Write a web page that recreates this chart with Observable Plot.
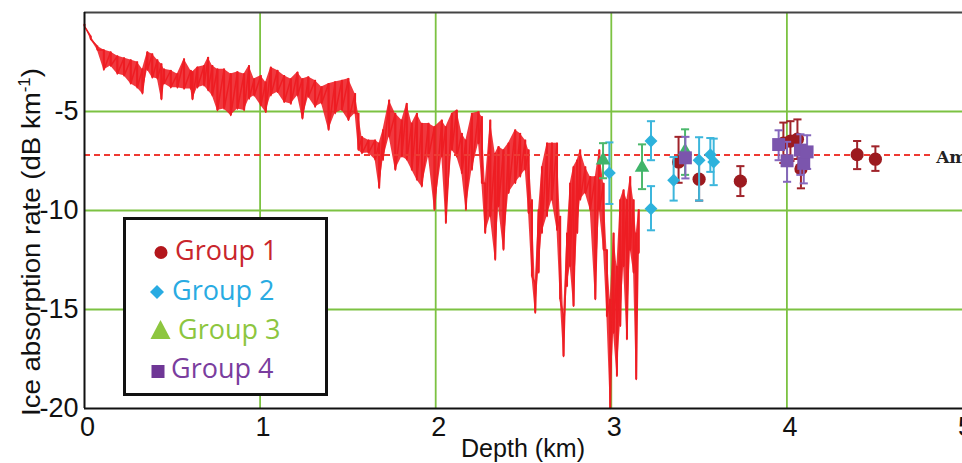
<!DOCTYPE html>
<html><head><meta charset="utf-8">
<script src="https://cdn.jsdelivr.net/npm/d3@7"></script>
<script src="https://cdn.jsdelivr.net/npm/@observablehq/plot@0.6"></script>
<style>
html,body{margin:0;padding:0;background:#fff;}
#wrap{position:relative;width:962px;height:463px;overflow:hidden;}
#legend{position:absolute;left:123px;top:217px;width:199px;height:173px;border:3px solid #111;background:#fff;}
.lt{position:absolute;font-family:"Open Sans","Noto Sans",sans-serif;font-size:27px;line-height:1;white-space:nowrap;}
</style></head><body><div id="wrap"></div>
<script>
// depth (km), upper value, lower value of the absorption-rate trace
const curveSamples = [
[0,-0.6,-0.7],[0.035,-1.2,-1.35],[0.073,-1.7,-1.9],[0.11,-1.9,-2.9],[0.149,-2.0,-2.7],
[0.187,-2.2,-3.1],[0.225,-2.3,-3.2],[0.263,-2.4,-3.6],[0.30,-2.5,-3.8],[0.33,-2.86,-4.1],
[0.358,-2.0,-2.9],[0.386,-2.1,-3.3],[0.415,-2.4,-3.35],[0.438,-2.6,-4.4],[0.453,-2.86,-3.6],
[0.491,-2.93,-3.8],[0.529,-3.1,-3.8],[0.567,-2.35,-3.86],[0.605,-2.93,-3.86],[0.615,-3.0,-4.4],
[0.643,-2.77,-3.8],[0.681,-2.69,-3.7],[0.704,-2.27,-3.94],[0.728,-2.69,-4.2],[0.757,-2.86,-4.95],
[0.795,-2.86,-4.87],[0.833,-3.1,-5.2],[0.871,-3.0,-4.87],[0.909,-3.1,-4.95],[0.937,-2.69,-4.37],
[0.966,-3.36,-4.2],[1.004,-3.19,-4.7],[1.032,-3.52,-5.04],[1.061,-2.77,-4.2],[1.099,-2.93,-4.03],
[1.137,-3.19,-4.53],[1.175,-3.36,-4.62],[1.213,-3.02,-4.2],[1.241,-3.36,-5.37],[1.275,-3.26,-4.27],
[1.313,-3.43,-4.77],[1.35,-3.76,-4.6],[1.39,-3.6,-5.94],[1.427,-3.51,-5.1],[1.466,-3.43,-4.94],
[1.503,-3.34,-5.44],[1.541,-4.1,-5.1],[1.56,-5.1,-6.95],[1.58,-6.28,-7.12],[1.617,-6.45,-7.1],
[1.655,-6.45,-7.44],[1.678,-6.6,-8.88],[1.70,-5.94,-7.46],[1.735,-4.43,-6.28],[1.77,-5.1,-7.96],
[1.807,-5.44,-7.29],[1.835,-4.6,-7.44],[1.864,-5.6,-7.96],[1.893,-5.1,-8.46],[1.921,-5.6,-8.8],
[1.959,-5.6,-7.29],[1.993,-5.78,-9.97],[2.035,-5.44,-7.29],[2.058,-5.78,-10.64],[2.092,-5.1,-6.95],
[2.12,-4.94,-7.29],[2.149,-6.11,-8.13],[2.172,-6.45,-9.97],[2.206,-5.1,-7.96],[2.244,-5.02,-6.62],
[2.263,-5.27,-8.63],[2.282,-8.63,-11.15],[2.311,-5.44,-10.3],[2.339,-7.12,-12.5],[2.358,-6.78,-9.8],
[2.386,-6.95,-11.99],[2.415,-6.6,-9.13],[2.453,-5.94,-8.63],[2.481,-6.11,-8.3],[2.51,-6.45,-7.96],
[2.529,-6.95,-10.14],[2.548,-9.47,-13.33],[2.567,-13.67,-15.18],[2.586,-9.97,-13.15],[2.605,-7.8,-11.15],
[2.634,-6.6,-10.3],[2.662,-6.6,-9.47],[2.691,-6.6,-11.0],[2.709,-10.3,-14.5],[2.728,-15.35,-17.37],
[2.748,-11.15,-13.84],[2.766,-8.63,-12.83],[2.785,-7.8,-14.84],[2.806,-7.46,-11.15],[2.823,-6.95,-9.47],
[2.852,-7.8,-9.13],[2.88,-8.3,-9.97],[2.909,-8.3,-14.5],[2.932,-6.95,-9.97],[2.956,-8.63,-11.99],
[2.975,-11.99,-15.35],[2.994,-14.5,-20],[3.013,-11.15,-16.19],[3.032,-12.83,-18.37],[3.051,-9.47,-15.85],
[3.07,-8.97,-12.83],[3.089,-9.47,-16.52],[3.108,-8.3,-11.99],[3.127,-9.47,-13.15],[3.142,-11.15,-18.54],
[3.156,-9.97,-12.16]
];
// [depth, value, lower error, upper error]
const group1 = [[3.383,-7.55,-8.6,-6.28],[3.50,-8.42,-9.5,-7.4],[3.735,-8.52,-9.27,-7.76],
  [3.98,-6.6,-7.6,-5.56],[4.02,-6.5,-7.5,-5.49],[4.06,-6.4,-7.4,-5.4],[4.08,-7.9,-8.88,-7.0],
  [4.40,-7.18,-7.91,-6.49],[4.504,-7.41,-8.0,-6.76]];
const group2 = [[2.989,-8.1,-9.67,-6.56],[3.226,-6.49,-7.46,-5.49],[3.226,-9.91,-11.0,-8.77],
  [3.355,-8.47,-9.5,-7.3],[3.50,-7.46,-9.5,-6.3],[3.564,-7.18,-8.05,-6.34],[3.583,-7.55,-8.72,-6.37]];
const group3 = [[2.953,-7.46,-8.37,-6.6],[3.175,-7.83,-8.92,-6.66],[3.42,-7.0,-8.2,-5.9]];
const group4 = [[3.422,-7.34,-8.38,-6.28],[3.953,-6.67,-7.46,-5.95],[4.001,-7.49,-8.55,-6.53],
  [4.077,-6.95,-8.2,-6.15],[4.096,-7.62,-8.63,-6.8],[4.115,-7.04,-7.9,-6.2]];
const groupNames = ["Group 1","Group 2","Group 3","Group 4"];
const referenceLevel = -7.2;
const referenceText = "Am";
const xTicks = [0,1,2,3,4,5];
const yTicks = [-5,-10,-15,-20];
const xGrid = [1,2,3,4];
const yGrid = [-5,-10,-15];

const band = curveSamples.map(([d,h,l]) => ({d, h, l}));
const zig = curveSamples.flatMap(([d,h,l]) => [{d, v:h}, {d, v:l}]);
const rows = arr => arr.map(([x,y,lo,hi]) => ({x,y,lo,hi}));
const cap = {draw(ctx, size){ const w = Math.sqrt(size)/2; ctx.moveTo(-w,0); ctx.lineTo(w,0); }};

const styles = [
  {data: rows(group1), bar:"#a0232a", fill:"#9c1a1f", symbol:"circle", r:6.6},
  {data: rows(group2), bar:"#3cb6dc", fill:"#2db2dc", symbol:"diamond2", r:5.8},
  {data: rows(group3), bar:"#4cb86c", fill:"#3fb46a", symbol:"triangle", r:5.4},
  {data: rows(group4), bar:"#8567bd", fill:"#7b55ad", symbol:"square", r:7.3}
];
const groupMarks = styles.flatMap(s => [
  Plot.ruleX(s.data, {x:"x", y1:"lo", y2:"hi", stroke:s.bar, strokeWidth:2}),
  Plot.dot(s.data, {x:"x", y:"lo", symbol:cap, r:4.6, stroke:s.bar, strokeWidth:2}),
  Plot.dot(s.data, {x:"x", y:"hi", symbol:cap, r:4.6, stroke:s.bar, strokeWidth:2}),
  Plot.dot(s.data, {x:"x", y:"y", symbol:s.symbol, r:s.r, fill:s.fill, stroke:"none"})
]);

const chart = Plot.plot({
  width: 962, height: 463,
  marginLeft: 84, marginRight: 0, marginTop: 12, marginBottom: 55,
  style: {fontFamily: "'Liberation Sans', Arial, sans-serif", fontSize: "27px", background: "#fff", overflow: "visible"},
  x: {domain: [0,5], label: null},
  y: {domain: [-20,0], label: null},
  marks: [
    Plot.gridX(xGrid, {stroke:"#7cc242", strokeOpacity:1, strokeWidth:1.8}),
    Plot.gridY(yGrid, {stroke:"#7cc242", strokeOpacity:1, strokeWidth:1.8}),
    Plot.areaY(band, {x:"d", y1:"h", y2:"l", fill:"#ee1d23", fillOpacity:0.88}),
    Plot.ruleX(band, {x:"d", y1:"h", y2:"l", stroke:"#ee1d23", strokeWidth:2}),
    Plot.line(zig, {x:"d", y:"v", stroke:"#ee1d23", strokeWidth:1.5}),
    Plot.ruleY([referenceLevel], {x1:0, x2:4.84, stroke:"#ee3a33", strokeWidth:2, strokeDasharray:"6,4"}),
    Plot.text([referenceText], {x:4.85, y:referenceLevel, text:d=>d, textAnchor:"start", fontFamily:"'DejaVu Serif', serif", fontSize:17, fontWeight:"bold", fill:"#222", dy:2}),
    ...groupMarks,
    Plot.ruleY([0], {stroke:"#444", strokeWidth:2}),
    Plot.ruleY([-20], {stroke:"#111", strokeWidth:2}),
    Plot.ruleX([0], {stroke:"#111", strokeWidth:2}),
    Plot.axisX(xTicks, {tickSize:0, tickPadding:8, fontSize:27, label:null, tickFormat:d=>String(d), fill:"#111", dx:3}),
    Plot.axisY(yTicks, {tickSize:0, tickPadding:6, fontSize:27, label:null, tickFormat:d=>String(d), fill:"#111"})
  ]
});
document.getElementById("wrap").appendChild(chart);

const svg = d3.select(chart);
svg.append("text").attr("x", 523).attr("y", 457).attr("text-anchor","middle")
  .attr("font-size", 25).attr("fill","#111").attr("textLength",124).attr("lengthAdjust","spacingAndGlyphs")
  .text("Depth (km)");
const yl = svg.append("text").attr("transform","translate(39.5,242) rotate(-90)").attr("text-anchor","middle")
  .attr("font-size", 26).attr("fill","#111").attr("textLength",348).attr("lengthAdjust","spacingAndGlyphs");
yl.append("tspan").text("Ice absorption rate (dB km");
yl.append("tspan").attr("font-size",16).attr("dy",-10).text("-1");
yl.append("tspan").attr("dy",10).text(")");

// legend
d3.select("#wrap").append("div").attr("id","legend");
const legColors = ["#c9262c","#29abe2","#8dc63f","#7a3d9e"];
const legSymColors = ["#b3161c","#29abe2","#8dc63f","#6f3796"];
const legTextPos = [[52,19],[49,59],[55,98],[48,137]];
groupNames.forEach((n,i) => {
  d3.select("#wrap").append("div").attr("class","lt")
    .style("left",(123+legTextPos[i][0])+"px").style("top",(217+legTextPos[i][1])+"px")
    .style("color",legColors[i]).text(n);
});
const ls = d3.select("#wrap").append("svg").attr("width",962).attr("height",463)
  .style("position","absolute").style("left",0).style("top",0).style("pointer-events","none");
ls.append("circle").attr("cx",161).attr("cy",252.5).attr("r",6.5).attr("fill",legSymColors[0]);
ls.append("path").attr("d","M157,285 L164,292 L157,299 L150,292 Z").attr("fill",legSymColors[1]);
ls.append("path").attr("d","M160.5,320 L170.5,339 L150.5,339 Z").attr("fill",legSymColors[2]);
ls.append("rect").attr("x",151.5).attr("y",365).attr("width",13).attr("height",13).attr("fill",legSymColors[3]);
</script></body></html>
